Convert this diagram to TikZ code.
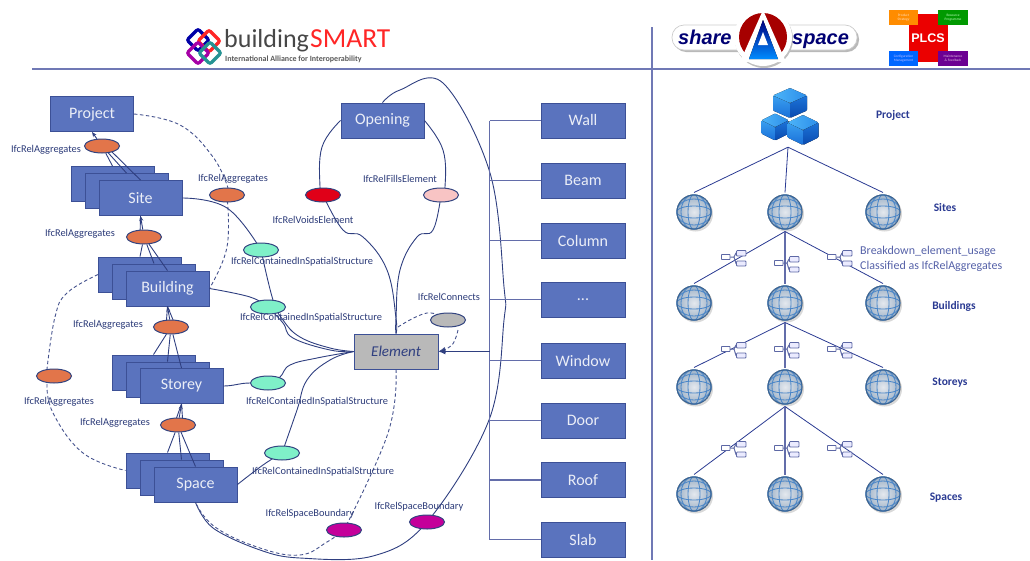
\documentclass[tikz,border=0pt]{standalone}
\usepackage{fontspec}
\setmainfont{Carlito}
\newfontfamily\logofont{Liberation Sans}
\usetikzlibrary{arrows.meta,shapes.geometric,shadows,positioning}
\definecolor{boxblue}{HTML}{5A73BE}
\definecolor{boxedge}{HTML}{3C5096}
\definecolor{navy}{HTML}{2F3F80}
\definecolor{rule}{HTML}{7079B5}
\definecolor{lbl}{HTML}{2B3A78}
\definecolor{headtxt}{HTML}{2A3A92}
\definecolor{gridblue}{HTML}{4A86C8}
\definecolor{ballin}{HTML}{E4E8EE}
\definecolor{ballout}{HTML}{8FA6BE}
\definecolor{cubea}{HTML}{3AA0F0}
\definecolor{cubeb}{HTML}{1A6FD8}
\definecolor{cubec}{HTML}{1C74DA}
\definecolor{cubed}{HTML}{0A4AAE}
\definecolor{cubee}{HTML}{4DB4F8}
\definecolor{cubef}{HTML}{2C8EEA}
\definecolor{relorange}{HTML}{E2754A}
\definecolor{relgreen}{HTML}{7FF0C8}
\definecolor{relpink}{HTML}{F8C4C4}
\definecolor{relred}{HTML}{E00018}
\definecolor{relmag}{HTML}{C4009A}
\pgfdeclarelayer{boxes}
\pgfdeclarelayer{lines}
\pgfsetlayers{boxes,lines,main}
\newcommand{\fs}[1]{\fontsize{#1}{#1}\selectfont}
\tikzset{
  ent/.style={rectangle,draw=boxedge,line width=0.9pt,fill=boxblue,text=white!88!boxblue,minimum width=83pt,minimum height=35pt,inner sep=0pt,font=\fs{16}},
  rel/.style={ellipse,draw=boxedge!85!black,line width=1pt,minimum width=35pt,minimum height=14pt,inner sep=0pt},
  tag/.style={text=lbl,font=\fs{10.4},inner sep=0pt,yshift=-1pt},
  head/.style={text=headtxt,font=\fs{11.5}\bfseries,inner sep=0pt,yshift=-1.5pt},
  conn/.style={draw=navy,line width=0.9pt},
  tip/.style={conn,-{Stealth[length=5pt,width=4pt]}},
  dashc/.style={draw=navy!90!white,line width=0.9pt,dash pattern=on 3.5pt off 2.5pt},
  treeline/.style={draw=headtxt,line width=0.8pt},
  trunkline/.style={draw=rule!80!navy,line width=1.2pt},
  globe/.style={circle,minimum size=35pt,inner sep=0pt,outer sep=2pt,
    drop shadow={shadow xshift=1.5pt,shadow yshift=-2pt,opacity=.3,fill=gray},
    path picture={
      \fill[inner color=ballin,outer color=ballout] (path picture bounding box.center) circle (21pt);
      \begin{scope}[shift={(path picture bounding box.center)},rotate=-18,gridblue,line width=0.85pt,x=1pt,y=1pt]
        \draw (0,0) ellipse (6 and 17.5);
        \draw (0,0) ellipse (13 and 17.5);
        \draw (0,0) ellipse (17.5 and 6);
        \draw (0,0) ellipse (17.5 and 13);
      \end{scope}
      \draw[gridblue!75!black,line width=1pt] (path picture bounding box.center) circle (17pt);
    }},
}
\newcommand{\isocube}[4]{% cx cy w h
  \fill[top color=cubea,bottom color=cubeb,rounded corners=1pt] (#1,#2) -- (#1-#3,#2-#4/2) -- (#1-#3,#2+#4/2) -- (#1,#2+#4) -- cycle;
  \fill[top color=cubec,bottom color=cubed,rounded corners=1pt] (#1,#2) -- (#1+#3,#2-#4/2) -- (#1+#3,#2+#4/2) -- (#1,#2+#4) -- cycle;
  \fill[left color=cubee,right color=cubef,rounded corners=1pt] (#1,#2) -- (#1-#3,#2-#4/2) -- (#1,#2-#4) -- (#1+#3,#2-#4/2) -- cycle;
}
\newcommand{\treeicon}[2]{%
  \begin{scope}[shift={(#1,#2)}]
    \draw[rule!70!navy,line width=1pt] (-4,-2) -- (0,-2) -- (2,-6) -- (3,-6) (0,-2) -- (2,4.5) -- (3,4.5);
    \draw[rule!70!navy,line width=0.8pt,fill=white,rounded corners=.5pt] (-12.5,-4.5) rectangle (-4,0.5);
    \draw[rule!70!navy,line width=0.8pt,fill=blue!8!white,rounded corners=.8pt] (2.5,-8.5) rectangle (12,-3);
    \draw[rule!70!navy,line width=0.8pt,fill=blue!8!white,rounded corners=.8pt] (2.5,2) rectangle (12,7);
  \end{scope}
}
\newcommand{\diam}[3]{\draw[#3,line width=3.2pt,rounded corners=2pt] (#1-11,#2) -- (#1,#2-11) -- (#1+11,#2) -- (#1,#2+11) -- cycle;}
\begin{document}
\begin{tikzpicture}[x=1pt,y=-1pt]
\useasboundingbox (0,0) rectangle (1030,560);
% frame rules
\coordinate (hl) at (32,69);
\coordinate (hr) at (1030,69);
\coordinate (vt) at (652,27);
\coordinate (vb) at (652,560);
\draw[rule,line width=1.1pt] (hl) -- (hr);
\draw[rule,line width=1.1pt] (vt) -- (vb);
% buildingSMART logo
\diam{198}{40}{blue!65!black}
\diam{209}{41}{red!85!white}
\diam{198}{53}{violet!70!magenta}
\diam{210}{53}{teal!85!white}
\node[anchor=base west,inner sep=0pt,text=black!72,font=\fs{26}] (bsa) at (224,47) {building};
\node[anchor=base west,inner sep=0pt,text=red!85!white,font=\fs{27.5}] (bsb) at (310,47) {SMART};
\node[anchor=base west,inner sep=0pt,text=black!65,font=\fs{8}\bfseries] (bsc) at (225,61) {International Alliance for Interoperability};
% ShareASpace logo
\fill[gray!55,rounded corners=12pt] (674,27) rectangle (859,52);
\draw[gray!40,fill=white,line width=.7pt,rounded corners=12pt] (672,25) rectangle (857,50);
\fill[gray!50] (764,39) circle (29);
\fill[white] (763,37) circle (29);
\fill[red!65!black] (763,37) circle (24);
\fill[white] (763,10) -- (786,62) -- (740,62) -- cycle;
\fill[top color=blue!50!black,bottom color=blue!45!cyan] (763,20) -- (778,59) -- (749,59) -- cycle;
\fill[white] (763,32) -- (768,45) -- (758,45) -- cycle;
\node[anchor=base west,inner sep=0pt,text=blue!45!black,font=\logofont\bfseries\itshape\fs{20}] (sa) at (678,44) {share};
\node[anchor=base west,inner sep=0pt,text=blue!45!black,font=\logofont\bfseries\itshape\fs{20}] (sb) at (792,44) {space};
% PLCS logo
\fill[red!92!black] (909,14) rectangle (948,62);
\node[fill=orange!90!yellow,minimum width=29pt,minimum height=15pt,inner sep=0pt,text=white!75!orange,font=\fs{3.5},align=center] (po) at (903.5,17.5) {Product\\Strategy};
\node[fill=green!60!black,minimum width=30pt,minimum height=15pt,inner sep=0pt,text=white!75!green,font=\fs{3.5},align=center] (pg) at (953,17.5) {Resource\\Programme};
\node[fill=blue!60!cyan,minimum width=29pt,minimum height=15pt,inner sep=0pt,text=white!75!blue,font=\fs{3.5},align=center] (pb) at (903.5,58.5) {Configuration\\Management};
\node[fill=violet!85!blue,minimum width=30pt,minimum height=15pt,inner sep=0pt,text=white!75!violet,font=\fs{3.5},align=center] (pp) at (953,58.5) {Maintenance\\\& Feedback};
\node[text=white,font=\logofont\bfseries\fs{12.5},inner sep=0pt] (pt) at (928,38) {PLCS};
% boxes
\begin{pgfonlayer}{boxes}
\node[ent] (project) at (92,114) {Project};
\node[ent] (site1) at (112.5,184) {};
\node[ent] (site2) at (126.5,191) {};
\node[ent] (site) at (140.5,198) {Site};
\node[ent] (bld1) at (140,274.5) {};
\node[ent] (bld2) at (154,281.5) {};
\node[ent] (bld) at (167.5,288.5) {Building};
\node[ent] (sto1) at (153.5,372.5) {};
\node[ent] (sto2) at (167.5,379.5) {};
\node[ent] (sto) at (181.5,386) {Storey};
\node[ent] (spa1) at (167.5,470.5) {};
\node[ent] (spa2) at (181.5,477.5) {};
\node[ent] (spa) at (195.5,484.5) {Space};
\node[ent] (opening) at (382.5,120.5) {Opening};
\node[ent,minimum width=84pt] (wall) at (583,120.5) {Wall};
\node[ent,minimum width=84pt] (beam) at (583,180.5) {Beam};
\node[ent,minimum width=84pt] (column) at (583,240.5) {Column};
\node[ent,minimum width=84pt] (dots) at (583,299.5) {...};
\node[ent,minimum width=84pt] (window) at (583,360.5) {Window};
\node[ent,minimum width=84pt] (door) at (583,420.5) {Door};
\node[ent,minimum width=84pt] (roof) at (583,480) {Roof};
\node[ent,minimum width=84pt] (slab) at (583,539.5) {Slab};
\node[ent,fill=gray!55,draw=boxedge,text=navy,font=\fs{15}\itshape,minimum width=84pt] (element) at (396,351.5) {Element};
\end{pgfonlayer}
% relationship ellipses
\node[rel,fill=relorange] (r1) at (102,146) {};
\node[rel,fill=relorange] (r2) at (227,195) {};
\node[rel,fill=relorange] (r3) at (144,237) {};
\node[rel,fill=relorange] (r4) at (171,327) {};
\node[rel,fill=relorange] (r5) at (54,376) {};
\node[rel,fill=relorange] (r6) at (178,425) {};
\node[rel,fill=relgreen] (g1) at (261,250) {};
\node[rel,fill=relgreen] (g2) at (268,307) {};
\node[rel,fill=relgreen] (g3) at (268,383) {};
\node[rel,fill=relgreen] (g4) at (282,453) {};
\node[rel,fill=relred] (void) at (323,195) {};
\node[rel,fill=relpink] (fill) at (441,195) {};
\node[rel,fill=gray!55] (conn1) at (448,320) {};
\node[rel,fill=relmag] (m1) at (344,530) {};
\node[rel,fill=relmag] (m2) at (427,522) {};
% connectors
\coordinate (trunk) at (489.5,351.5);
\begin{pgfonlayer}{lines}
\draw[tip] (r1) -- (project.south);
\draw[conn] (r1) -- (site1.north);
\draw[conn] (r1) -- (site2.north);
\draw[conn] ([xshift=4pt]r1.center) -- (site.north);
\draw[tip] (r3) -- (site.south);
\draw[conn] ([xshift=-4pt]r3.center) -- (site.south);
\draw[conn] (r3) -- (bld1.north);
\draw[conn] (r3) -- (bld2.north);
\draw[conn] (r3) -- (bld.north);
\draw[tip] (r4) -- (bld.south);
\draw[conn] ([xshift=-5pt]r4.center) -- (bld.south);
\draw[conn] ([xshift=5pt]r4.center) -- (bld.south);
\draw[conn] (r4) -- (sto1.north);
\draw[conn] (r4) -- (sto2.north);
\draw[conn] (r4) -- (sto.north);
\draw[tip] (r6) -- (sto.south);
\draw[conn] ([xshift=-4pt]r6.center) -- (sto.south);
\draw[conn] ([xshift=5pt]r6.center) -- (sto.south);
\draw[conn] (r6) -- (spa1.north);
\draw[conn] (r6) -- (spa2.north);
\draw[conn] (r6) -- (spa.north);
% dashed aggregates
\draw[dashc] plot[smooth,tension=.7] coordinates {(project.east) (180,125) (213,157) (228,188)};
\draw[dashc] plot[smooth,tension=.7] coordinates {(r2) (227,247) (bld.east)};
\draw[dashc] plot[smooth,tension=.7] coordinates {(bld1.west) (67,293) (55,317) (47,369)};
\draw[dashc] plot[smooth,tension=.7] coordinates {(47,384) (53,413) (83,453) (spa1.west)};
% contained in spatial structure
\draw[conn] plot[smooth,tension=.7] coordinates {(site.east) (227,208) (g1)};
\draw[conn] plot[smooth,tension=.7] coordinates {(g1) (273,300) (283,320) (300,337) (330,348) (element.west)};
\draw[conn] plot[smooth,tension=.7] coordinates {(bld.east) (250,297) (g2)};
\draw[conn] plot[smooth,tension=.7] coordinates {(g2) (283,323) (293,338) (330,350) (element.west)};
\draw[conn] (sto.east) to[out=0,in=180] (g3);
\draw[conn] plot[smooth,tension=.7] coordinates {(g3) (280,377) (290,365) (317,358) (element.west)};
\draw[conn] plot[smooth,tension=.7] coordinates {(g4) (297,410) (307,380) (330,360) (element.west)};
\draw[conn] plot[smooth,tension=.7] coordinates {(g4) (263,465) (spa.east)};
% voids and fills
\draw[conn] plot[smooth,tension=.7] coordinates {(void) (320,187) (322,147) (opening.west)};
\draw[conn] plot[smooth,tension=.7] coordinates {(void) (343,230) (363,237) (387,270) (396,318) (element.north)};
\draw[conn] plot[smooth,tension=.7] coordinates {(fill) (445,187) (443,150) (opening.east)};
\draw[conn] plot[smooth,tension=.7] coordinates {(fill) (433,230) (417,237) (400,270) (396,318) (element.north)};
% element connects
\draw[dashc] plot[smooth,tension=.7] coordinates {(398,327) (427,313) (conn1)};
\draw[dashc,-{Latex[length=7pt,width=6pt]}] plot[smooth,tension=.7] coordinates {(458,330) (452,345) (element.east)};
% boundary
\draw[conn] plot[smooth,tension=.6] coordinates {(opening.north) (400,90) (443,83) (490,173) (504,287) (504,320) (489,420) (m2) (373,556) (300,558) (260,550) (213,528) (spa.south)};
\draw[dashc] plot[smooth,tension=.7] coordinates {(element.south) (388,433) (m1)};
\draw[dashc] plot[smooth,tension=.7] coordinates {(m1) (327,542) (300,555) (260,548) (215,527) (spa.south)};
% specialisation trunk
\draw[trunkline] (wall.west -| trunk) -- (slab.west -| trunk);
\draw[trunkline] (wall.west) -- (wall.west -| trunk);
\draw[trunkline] (beam.west) -- (beam.west -| trunk);
\draw[trunkline] (column.west) -- (column.west -| trunk);
\draw[trunkline] (dots.west) -- (dots.west -| trunk);
\draw[trunkline] (window.west) -- (window.west -| trunk);
\draw[trunkline] (door.west) -- (door.west -| trunk);
\draw[trunkline] (roof.west) -- (roof.west -| trunk);
\draw[trunkline] (slab.west) -- (slab.west -| trunk);
\draw[conn,line width=1.1pt,-{Latex[length=7pt,width=6pt]}] (trunk) -- (element.east);
\end{pgfonlayer}
% labels
\node[tag] (t1) at (46,149) {IfcRelAggregates};
\node[tag] (t2) at (233,178) {IfcRelAggregates};
\node[tag] (t3) at (80,233) {IfcRelAggregates};
\node[tag] (t4) at (108,324) {IfcRelAggregates};
\node[tag] (t5) at (59,401) {IfcRelAggregates};
\node[tag] (t6) at (115,422) {IfcRelAggregates};
\node[tag] (t7) at (302,261) {IfcRelContainedInSpatialStructure};
\node[tag] (t8) at (311,317) {IfcRelContainedInSpatialStructure};
\node[tag] (t9) at (317,401) {IfcRelContainedInSpatialStructure};
\node[tag] (t10) at (323,471) {IfcRelContainedInSpatialStructure};
\node[tag] (t11) at (313,219) {IfcRelVoidsElement};
\node[tag] (t12) at (400,178) {IfcRelFillsElement};
\node[tag] (t13) at (449,296) {IfcRelConnects};
\node[tag] (t14) at (310,513) {IfcRelSpaceBoundary};
\node[tag] (t15) at (419,506) {IfcRelSpaceBoundary};
% right-hand tree
\node[minimum width=56pt,minimum height=60pt,inner sep=0pt] (p) at (788,117) {};
\isocube{790}{103}{17}{15}
\isocube{775}{127}{13.5}{13.5}
\isocube{803}{130}{15.5}{15}
\foreach \n/\x in {1/694,2/785,3/883}{
  \node[globe] (s\n) at (\x,212) {};
  \node[globe] (b\n) at (\x,303) {};
  \node[globe] (y\n) at (\x,387) {};
  \node[globe] (u\n) at (\x,494) {};
}
\draw[treeline] (p.south) -- (s1.north);
\draw[treeline] (p.south) -- (s2.north);
\draw[treeline] (p.south) -- (s3.north);
\draw[treeline] (s2.south) -- (b1.north);
\draw[trunkline] (s2.south) -- (b2.north);
\draw[treeline] (s2.south) -- (b3.north);
\draw[treeline] (b2.south) -- (y1.north);
\draw[trunkline] (b2.south) -- (y2.north);
\draw[treeline] (b2.south) -- (y3.north);
\draw[treeline] (y2.south) -- (u1.north);
\draw[trunkline] (y2.south) -- (u2.north);
\draw[treeline] (y2.south) -- (u3.north);
\treeicon{734}{259}
\treeicon{787}{265}
\treeicon{840}{259}
\treeicon{734}{351}
\treeicon{787}{351}
\treeicon{840}{351}
\treeicon{734}{450}
\treeicon{787}{450}
\treeicon{840}{450}
\node[head] (h1) at (893,114) {Project};
\node[head] (h2) at (945,206) {Sites};
\node[head] (h3) at (954,305) {Buildings};
\node[head] (h4) at (950,381) {Storeys};
\node[head] (h5) at (946,496) {Spaces};
\node[anchor=west,inner sep=0pt,text=headtxt!80!white,font=\fs{12}] (n1) at (860,251) {Breakdown\_element\_usage};
\node[anchor=west,inner sep=0pt,text=headtxt!80!white,font=\fs{12}] (n2) at (860,266) {Classified as IfcRelAggregates};
\end{tikzpicture}
\end{document}
